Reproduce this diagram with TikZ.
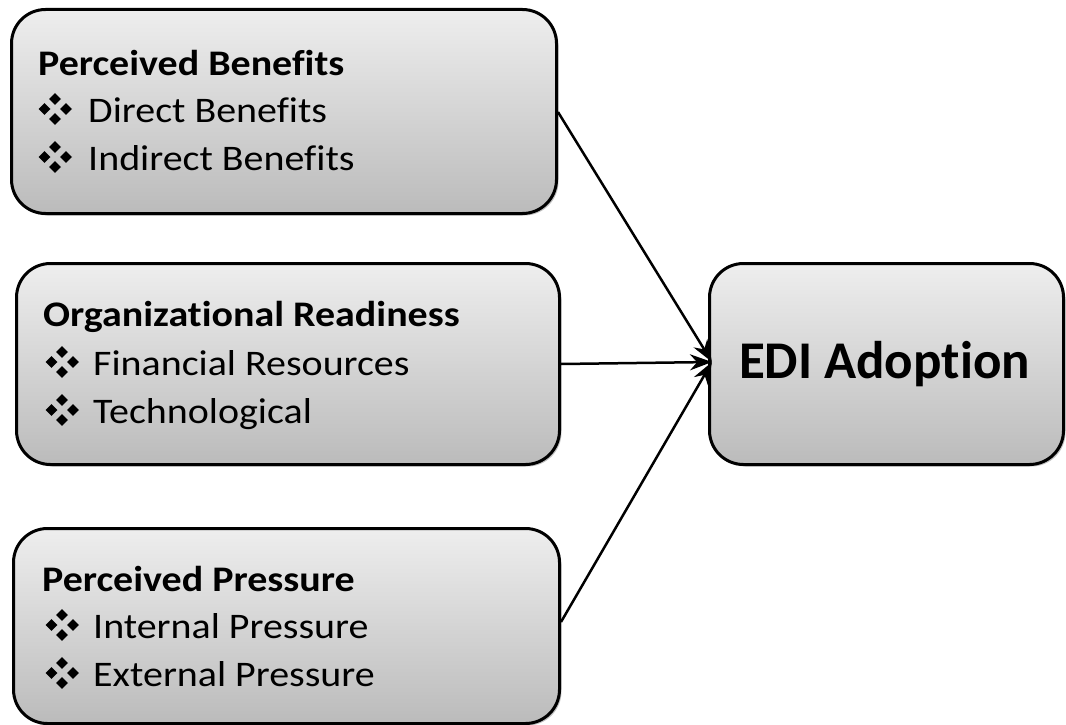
\documentclass[tikz,border=0pt]{standalone}
\usepackage{fontspec}
\setmainfont[Ligatures=CommonOff, FakeStretch=1.11]{Carlito}
\newfontfamily\edifont[Ligatures=CommonOff]{Carlito}
\usetikzlibrary{arrows.meta,shadows}
\definecolor{gtop}{HTML}{EEEEEE}
\definecolor{gbot}{HTML}{BBBBBB}
\tikzset{
  box/.style={draw=black, line width=3pt, rounded corners=34pt, top color=gtop, bottom color=gbot,
    drop shadow={shadow xshift=2pt, shadow yshift=-2pt, fill=gray!70, opacity=0.7}},
  title/.style={anchor=base west, inner sep=0pt, font=\fontsize{36}{40}\selectfont\bfseries},
  item/.style={anchor=base west, inner sep=0pt, font=\fontsize{36}{40}\selectfont},
  conn/.style={line width=2.5pt, -{Stealth[length=22pt,width=16pt]}},
  bulletmark/.pic={
    \foreach \dx/\dy in {-10.5/0,11/0,0/-10/,0/10}
      \fill[black] (\dx,\dy) +(-6,0) -- +(0,5.8) -- +(6,0) -- +(0,-5.8) -- cycle;
  }
}
\begin{document}
\begin{tikzpicture}[x=1pt,y=-1pt]
\useasboundingbox (0,0) rectangle (1066,725);
% boxes
\node[box, minimum width=545pt, minimum height=204pt, anchor=north west] (pb) at (10,8) {};
\node[box, minimum width=543pt, minimum height=201pt, anchor=north west] (orr) at (15,262) {};
\node[box, minimum width=546pt, minimum height=195pt, anchor=north west] (pp) at (12,527) {};
\node[box, minimum width=354pt, minimum height=201pt, anchor=north west] (edi) at (708,262) {};
% texts box 1
\node[title] (t1) at (38,75) {Perceived Benefits};
\pic at (55,109) {bulletmark};
\node[item] (i11) at (88,122) {Direct Benefits};
\pic at (55,157) {bulletmark};
\node[item] (i12) at (88,170) {Indirect Benefits};
% box 2
\node[title] (t2) at (43,326) {Organizational Readiness};
\pic at (62,362) {bulletmark};
\node[item] (i21) at (93,375) {Financial Resources};
\pic at (62,410) {bulletmark};
\node[item] (i22) at (93,423) {Technological};
% box 3
\node[title] (t3) at (42,591) {Perceived Pressure};
\pic at (62,625) {bulletmark};
\node[item] (i31) at (93,638) {Internal Pressure};
\pic at (62,673) {bulletmark};
\node[item] (i32) at (93,686) {External Pressure};
% EDI
\node[font=\fontsize{53}{60}\edifont\bfseries, inner sep=0pt] (et) at ([xshift=-2pt]edi.center) {EDI Adoption};
% connectors
\coordinate (tip) at (712,362);
\draw[conn] (pb.east |- 0,112) -- (tip);
\draw[conn] (orr.east) -- (tip);
\draw[conn] (pp.east |- 0,622) -- (tip);
\end{tikzpicture}
\end{document}
